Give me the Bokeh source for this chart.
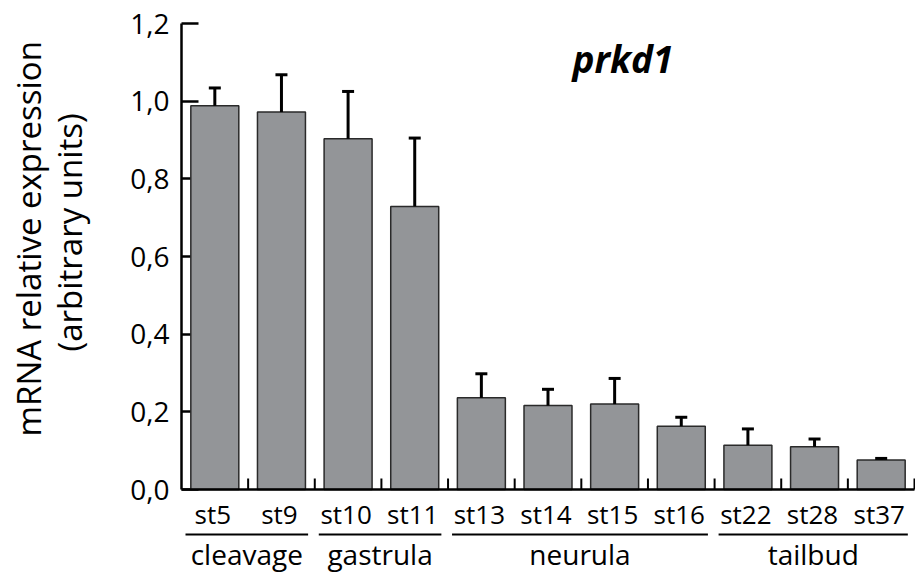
import numpy as np
from bokeh.plotting import figure
from bokeh.models import Range1d, FixedTicker, Label, Title
from bokeh.core.properties import value
from bokeh.embed import file_html
from bokeh.resources import INLINE

# ---------------- data ----------------
stages = ["st5", "st9", "st10", "st11", "st13", "st14", "st15", "st16", "st22", "st28", "st37"]
expression = [0.988, 0.972, 0.903, 0.729, 0.236, 0.216, 0.220, 0.163, 0.114, 0.110, 0.076]
error = [0.046, 0.096, 0.122, 0.176, 0.062, 0.042, 0.066, 0.023, 0.042, 0.020, 0.004]
groups = ["cleavage", "gastrula", "neurula", "tailbud"]
group_sizes = [2, 2, 4, 3]
y_ticks = [0.0, 0.2, 0.4, 0.6, 0.8, 1.0, 1.2]
y_tick_labels = ["0,0", "0,2", "0,4", "0,6", "0,8", "1,0", "1,2"]
gene_title = "prkd1"
y_title_lines = ["mRNA relative expression", "(arbitrary units)"]

# ---------------- layout ----------------
FONT = "Open Sans"
W, H = 915, 581
BORDER_L, BORDER_T, BORDER_R = 181, 23, 1
FRAME_W = W - BORDER_L - BORDER_R
FRAME_H = H - BORDER_T
n = len(stages)
px_x = FRAME_W / n
ZERO_PX = 466
y_top = y_ticks[-1]
px_y = ZERO_PX / y_top
y_bottom = -(FRAME_H - ZERO_PX) / px_y

p = figure(width=W, height=H, x_range=Range1d(0, n), y_range=Range1d(y_bottom, y_top),
           output_backend="svg", toolbar_location=None, x_axis_location=None,
           min_border_left=BORDER_L, min_border_right=BORDER_R, min_border_top=BORDER_T,
           min_border_bottom=0)
p.outline_line_color = None
p.grid.visible = False
p.background_fill_color = "white"
p.border_fill_color = "white"

yax = p.yaxis[0]
yax.ticker = FixedTicker(ticks=y_ticks)
yax.major_label_overrides = dict(zip(y_ticks, y_tick_labels))
yax.bounds = (y_ticks[0], y_ticks[-1])
yax.major_tick_in = 17
yax.major_tick_out = 0
yax.minor_tick_line_color = None
yax.axis_line_width = 2.5
yax.axis_line_color = "black"
yax.major_tick_line_width = 2.5
yax.major_tick_line_color = "black"
yax.major_label_text_font = FONT
yax.major_label_text_font_size = "28px"
yax.major_label_text_color = "black"
yax.major_label_standoff = 12

xs = np.arange(n) + 0.5
vals = np.array(expression)
tops = vals + np.array(error)

p.vbar(x=xs, top=vals, bottom=0, width=0.72, fill_color="#939598",
       line_color="#2a2a2a", line_width=1.5, level="overlay")
cap = 6 / px_x
p.segment(x0=xs, y0=vals, x1=xs, y1=tops, line_width=3, line_color="black", level="overlay")
p.segment(x0=xs - cap, y0=tops, x1=xs + cap, y1=tops, line_width=3,
          line_color="black", level="overlay")

# x axis line and inner ticks at category boundaries
p.segment(x0=[0], y0=[0], x1=[n], y1=[0], line_width=2.5, line_color="black", level="overlay")
bounds_x = np.arange(1, n + 1)
p.segment(x0=bounds_x, y0=np.zeros(n), x1=bounds_x, y1=np.full(n, 11 / px_y),
          line_width=2, line_color="black", level="overlay")

# stage labels
p.text(x=xs, y=np.zeros(n), text=stages, text_font=value(FONT), text_font_size="26px",
       text_align="center", text_baseline="middle", y_offset=24, x_offset=-2,
       text_color="black")

# group underlines + labels
ends = np.cumsum(group_sizes)
starts = ends - np.array(group_sizes)
u0 = starts + 0.06
u1 = ends - 0.1
uy = -45 / px_y
p.segment(x0=u0, y0=np.full(len(groups), uy), x1=u1, y1=np.full(len(groups), uy),
          line_width=2, line_color="black")
p.text(x=(u0 + u1) / 2, y=np.zeros(len(groups)), text=groups, text_font=value(FONT),
       text_font_size="28px", text_align="center", text_baseline="middle",
       y_offset=64, text_color="black")

# title
p.add_layout(Label(x=391 / px_x, y=y_top - 34.7 / px_y, text=gene_title,
                   text_font=FONT, text_font_size="37px", text_font_style="bold italic",
                   text_align="left", text_baseline="middle", text_color="black"))

# y axis title (two lines, in the left side panel)
for line, off, so in [(y_title_lines[1], 230, 71), (y_title_lines[0], 145, -83)]:
    p.add_layout(Title(text=line, align="left", offset=off, standoff=so,
                       text_font=FONT, text_font_size="33px", text_font_style="normal",
                       text_color="black"), "left")

open("out.html", "w").write(file_html(p, INLINE))
